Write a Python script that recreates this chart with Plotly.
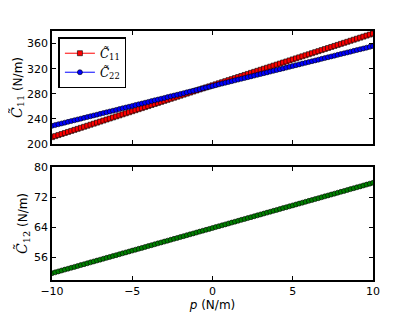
import plotly.graph_objects as go
from plotly.subplots import make_subplots

p = [-10.0, -9.8, -9.6, -9.4, -9.2, -9.0, -8.8, -8.6, -8.4, -8.2,
     -8.0, -7.8, -7.6, -7.4, -7.2, -7.0, -6.8, -6.6, -6.4, -6.2,
     -6.0, -5.8, -5.6, -5.4, -5.2, -5.0, -4.8, -4.6, -4.4, -4.2,
     -4.0, -3.8, -3.6, -3.4, -3.2, -3.0, -2.8, -2.6, -2.4, -2.2,
     -2.0, -1.8, -1.6, -1.4, -1.2, -1.0, -0.8, -0.6, -0.4, -0.2,
     0.0, 0.2, 0.4, 0.6, 0.8, 1.0, 1.2, 1.4, 1.6, 1.8,
     2.0, 2.2, 2.4, 2.6, 2.8, 3.0, 3.2, 3.4, 3.6, 3.8,
     4.0, 4.2, 4.4, 4.6, 4.8, 5.0, 5.2, 5.4, 5.6, 5.8,
     6.0, 6.2, 6.4, 6.6, 6.8, 7.0, 7.2, 7.4, 7.6, 7.8,
     8.0, 8.2, 8.4, 8.6, 8.8, 9.0, 9.2, 9.4, 9.6, 9.8, 10.0]

C11 = [211.00, 212.65, 214.30, 215.95, 217.60, 219.25, 220.90, 222.55, 224.20, 225.85,
       227.50, 229.15, 230.80, 232.45, 234.10, 235.75, 237.40, 239.05, 240.70, 242.35,
       244.00, 245.65, 247.30, 248.95, 250.60, 252.25, 253.90, 255.55, 257.20, 258.85,
       260.50, 262.15, 263.80, 265.45, 267.10, 268.75, 270.40, 272.05, 273.70, 275.35,
       277.00, 278.65, 280.30, 281.95, 283.60, 285.25, 286.90, 288.55, 290.20, 291.85,
       293.50, 295.15, 296.80, 298.45, 300.10, 301.75, 303.40, 305.05, 306.70, 308.35,
       310.00, 311.65, 313.30, 314.95, 316.60, 318.25, 319.90, 321.55, 323.20, 324.85,
       326.50, 328.15, 329.80, 331.45, 333.10, 334.75, 336.40, 338.05, 339.70, 341.35,
       343.00, 344.65, 346.30, 347.95, 349.60, 351.25, 352.90, 354.55, 356.20, 357.85,
       359.50, 361.15, 362.80, 364.45, 366.10, 367.75, 369.40, 371.05, 372.70, 374.35, 376.00]

C22 = [229.00, 230.27, 231.54, 232.81, 234.08, 235.35, 236.62, 237.89, 239.16, 240.43,
       241.70, 242.97, 244.24, 245.51, 246.78, 248.05, 249.32, 250.59, 251.86, 253.13,
       254.40, 255.67, 256.94, 258.21, 259.48, 260.75, 262.02, 263.29, 264.56, 265.83,
       267.10, 268.37, 269.64, 270.91, 272.18, 273.45, 274.72, 275.99, 277.26, 278.53,
       279.80, 281.07, 282.34, 283.61, 284.88, 286.15, 287.42, 288.69, 289.96, 291.23,
       292.50, 293.77, 295.04, 296.31, 297.58, 298.85, 300.12, 301.39, 302.66, 303.93,
       305.20, 306.47, 307.74, 309.01, 310.28, 311.55, 312.82, 314.09, 315.36, 316.63,
       317.90, 319.17, 320.44, 321.71, 322.98, 324.25, 325.52, 326.79, 328.06, 329.33,
       330.60, 331.87, 333.14, 334.41, 335.68, 336.95, 338.22, 339.49, 340.76, 342.03,
       343.30, 344.57, 345.84, 347.11, 348.38, 349.65, 350.92, 352.19, 353.46, 354.73, 356.00]

C12 = [51.80, 52.04, 52.28, 52.52, 52.76, 53.00, 53.24, 53.48, 53.72, 53.96,
       54.20, 54.44, 54.68, 54.92, 55.16, 55.40, 55.64, 55.88, 56.12, 56.36,
       56.60, 56.84, 57.08, 57.32, 57.56, 57.80, 58.04, 58.28, 58.52, 58.76,
       59.00, 59.24, 59.48, 59.72, 59.96, 60.20, 60.44, 60.68, 60.92, 61.16,
       61.40, 61.64, 61.88, 62.12, 62.36, 62.60, 62.84, 63.08, 63.32, 63.56,
       63.80, 64.04, 64.28, 64.52, 64.76, 65.00, 65.24, 65.48, 65.72, 65.96,
       66.20, 66.44, 66.68, 66.92, 67.16, 67.40, 67.64, 67.88, 68.12, 68.36,
       68.60, 68.84, 69.08, 69.32, 69.56, 69.80, 70.04, 70.28, 70.52, 70.76,
       71.00, 71.24, 71.48, 71.72, 71.96, 72.20, 72.44, 72.68, 72.92, 73.16,
       73.40, 73.64, 73.88, 74.12, 74.36, 74.60, 74.84, 75.08, 75.32, 75.56, 75.80]

x_ticks = [-10, -5, 0, 5, 10]
x_tick_text = ["\u221210", "\u22125", "0", "5", "10"]
top_ticks = [200, 240, 280, 320, 360]
bot_ticks = [56, 64, 72, 80]

name11 = "<i>C̃</i><sub>11</sub>"
name22 = "<i>C̃</i><sub>22</sub>"
name12 = "<i>C̃</i><sub>12</sub>"
title11 = "<span style='font-family:DejaVu Serif;font-size:14px'><i>C̃</i><sub>11</sub></span> (N/m)"
title12 = "<span style='font-family:DejaVu Serif;font-size:14px'><i>C̃</i><sub>12</sub></span> (N/m)"

fig = make_subplots(rows=2, cols=1, shared_xaxes=False, vertical_spacing=0.09)

fig.add_trace(go.Scatter(
    x=p, y=C11, mode="lines+markers", name=name11,
    line=dict(color="#ff0000", width=1),
    marker=dict(symbol="square", size=5, color="#ff0000",
                line=dict(color="#000000", width=0.6))), row=1, col=1)
fig.add_trace(go.Scatter(
    x=p, y=C22, mode="lines+markers", name=name22,
    line=dict(color="#0000ff", width=1),
    marker=dict(symbol="circle", size=5, color="#0000ff",
                line=dict(color="#000000", width=0.6))), row=1, col=1)
fig.add_trace(go.Scatter(
    x=p, y=C12, mode="lines+markers", name=name12, showlegend=False,
    line=dict(color="#008000", width=1),
    marker=dict(symbol="circle", size=5, color="#008000",
                line=dict(color="#000000", width=0.6))), row=2, col=1)

axis_common = dict(showline=True, linecolor="black", linewidth=1.5, mirror="allticks",
                   ticks="inside", ticklen=4, tickwidth=1, tickcolor="black",
                   showgrid=False, zeroline=False, automargin=False,
                   tickfont=dict(family="DejaVu Sans", size=11, color="black"))
title_font = dict(family="DejaVu Sans", size=12, color="black")

fig.update_xaxes(range=[-10, 10], tickvals=x_ticks, **axis_common)
fig.update_xaxes(showticklabels=False, row=1, col=1)
fig.update_xaxes(ticktext=x_tick_text, row=2, col=1,
                 title=dict(text="<i>p</i> (N/m)", standoff=0, font=title_font))
fig.update_yaxes(**axis_common)
fig.update_yaxes(range=[200, 380], tickvals=top_ticks, row=1, col=1,
                 title=dict(text=title11, standoff=4, font=title_font))
fig.update_yaxes(range=[50, 80], tickvals=bot_ticks, row=2, col=1,
                 title=dict(text=title12, standoff=4, font=title_font))

# the page body adds an 8px offset, so margins are shifted to compensate
fig.update_layout(
    width=415, height=312,
    margin=dict(l=44, r=50, t=23, b=40, autoexpand=False),
    paper_bgcolor="white", plot_bgcolor="white",
    legend=dict(x=0.02, y=0.975, xanchor="left", yanchor="top",
                bordercolor="black", borderwidth=1.5, bgcolor="white",
                font=dict(family="DejaVu Serif", size=12, color="black"),
                itemwidth=30, tracegroupgap=2),
)
fig.layout.yaxis.domain = [0.546, 1.0]
fig.layout.yaxis2.domain = [0.0, 0.454]
fig.layout.xaxis.domain = [0, 1]
fig.layout.xaxis2.domain = [0, 1]

fig.write_html("out.html")
